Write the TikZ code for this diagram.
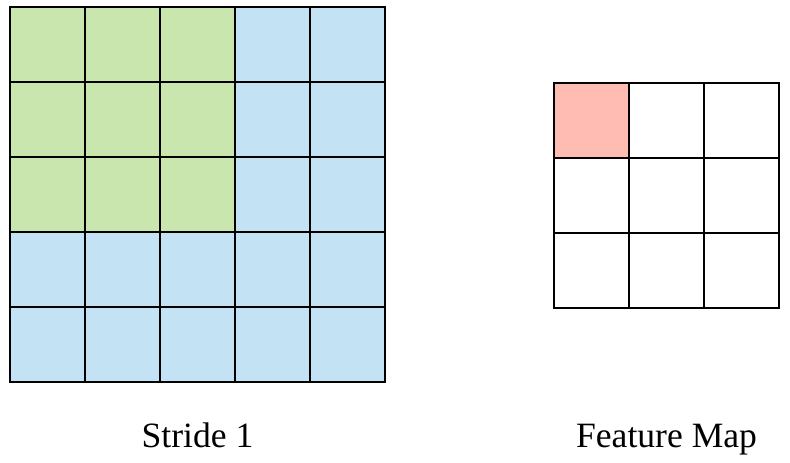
\documentclass[tikz,border=0pt]{standalone}
\usepackage{fontspec}
\setmainfont{Liberation Serif}
\usepackage{xcolor}
\usepackage{tikz}

\definecolor{wingreen}{HTML}{C8E6AD}
\definecolor{inblue}{HTML}{C3E3F5}
\definecolor{outred}{HTML}{FFBCB3}

\begin{document}
\begin{tikzpicture}[font=\fontsize{13.5}{16}\selectfont]
	\useasboundingbox (0,0) rectangle (10.533,-6.16);
	% Define styles
	\tikzstyle{incell}=[rectangle, draw=black, line width=0.8pt, fill=inblue, minimum size=1cm, inner sep=0pt, outer sep=0pt]
	\tikzstyle{wincell}=[incell, fill=wingreen]
	\tikzstyle{outcell}=[rectangle, draw=black, line width=0.55pt, fill=white, minimum size=1cm, inner sep=0pt, outer sep=0pt]

	% input 5x5, window 3x3 in the corner
	\foreach \r in {1,...,5}
		\foreach \c in {1,...,5}
			\node[incell] (in-\r-\c) at (-0.367+\c,-0.593-\r+1) {};
	\foreach \r in {1,...,3}
		\foreach \c in {1,...,3}
			\node[wincell] (in-\r-\c) at (-0.367+\c,-0.593-\r+1) {};

	% output 3x3
	\foreach \r in {1,...,3}
		\foreach \c in {1,...,3}
			\node[outcell] (out-\r-\c) at (6.887+\c,-1.607-\r+1) {};
	\node[outcell, fill=outred] (out-1-1) at (7.887,-1.607) {};

	\node[anchor=base] (stride) at (2.633,-5.96) {Stride 1};
	\node[anchor=base] (fmap) at (8.887,-5.96) {Feature Map};
\end{tikzpicture}
\end{document}
